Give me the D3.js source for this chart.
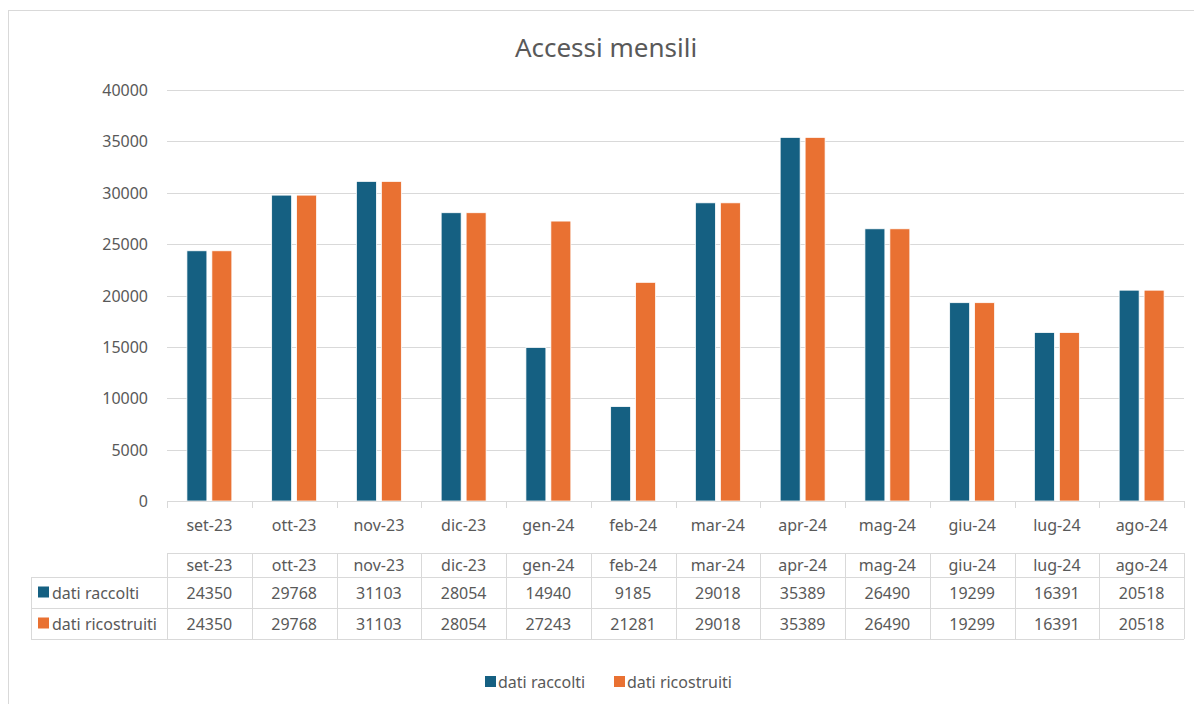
<!DOCTYPE html>
<html>
<head>
<meta charset="utf-8">
<script src="https://cdn.jsdelivr.net/npm/d3@7"></script>
<style>
  body { margin: 0; background: #fff; }
  svg text { font-family: "Noto Sans", "Open Sans", sans-serif; fill: #595959; }
</style>
</head>
<body>
<div id="canvas"></div>
<script>
// data
var months = ["set-23", "ott-23", "nov-23", "dic-23", "gen-24", "feb-24",
              "mar-24", "apr-24", "mag-24", "giu-24", "lug-24", "ago-24"];
var datiRaccolti = [24350, 29768, 31103, 28054, 14940, 9185, 29018, 35389, 26490, 19299, 16391, 20518];
var datiRicostruiti = [24350, 29768, 31103, 28054, 27243, 21281, 29018, 35389, 26490, 19299, 16391, 20518];
var seriesNames = ["dati raccolti", "dati ricostruiti"];
var seriesColors = ["#156082", "#E97132"];
var yTicks = [0, 5000, 10000, 15000, 20000, 25000, 30000, 35000, 40000];

var width = 1194, height = 704;
var plotLeft = 167, plotRight = 1184, plotTop = 90, plotBottom = 501;
var fontSize = "16px";

var svg = d3.select("#canvas").append("svg")
    .attr("width", width)
    .attr("height", height);

// outer chart border
svg.append("rect")
    .attr("x", 8.5).attr("y", 10.5)
    .attr("width", 1200).attr("height", 720)
    .attr("fill", "none")
    .attr("stroke", "#d9d9d9");

svg.append("text")
    .attr("x", 606).attr("y", 57)
    .attr("text-anchor", "middle")
    .style("font-size", "26px")
    .text("Accessi mensili");

var x = d3.scaleBand().domain(months).range([plotLeft, plotRight]);
var xInner = d3.scaleBand().domain(seriesNames)
    .range([x.bandwidth() * 0.235, x.bandwidth() * 0.765])
    .paddingInner(0.2);
var y = d3.scaleLinear().domain([0, 40000]).range([plotBottom, plotTop]);

// gridlines and y labels
svg.append("g").selectAll("line")
    .data(yTicks.slice(1))
    .enter().append("line")
    .attr("x1", plotLeft).attr("x2", plotRight)
    .attr("y1", function(d) { return Math.round(y(d)) + 0.5; })
    .attr("y2", function(d) { return Math.round(y(d)) + 0.5; })
    .attr("stroke", "#d9d9d9")
    .attr("stroke-width", 1);

svg.append("g").selectAll("text")
    .data(yTicks)
    .enter().append("text")
    .attr("x", 148)
    .attr("y", function(d) { return y(d) + 6; })
    .attr("text-anchor", "end")
    .style("font-size", fontSize)
    .text(function(d) { return d; });

// bars
var series = [datiRaccolti, datiRicostruiti];
series.forEach(function(vals, s) {
    svg.append("g").selectAll("rect")
        .data(vals)
        .enter().append("rect")
        .attr("x", function(d, i) { return x(months[i]) + xInner(seriesNames[s]); })
        .attr("y", function(d) { return y(d); })
        .attr("width", xInner.bandwidth())
        .attr("height", function(d) { return plotBottom - y(d); })
        .attr("fill", seriesColors[s])
        .attr("stroke", "#fff")
        .attr("stroke-width", 0.75);
});

// x axis line and ticks
svg.append("line")
    .attr("x1", plotLeft).attr("x2", plotRight)
    .attr("y1", plotBottom + 0.5).attr("y2", plotBottom + 0.5)
    .attr("stroke", "#d9d9d9");
svg.append("g").selectAll("line")
    .data(d3.range(months.length + 1))
    .enter().append("line")
    .attr("x1", function(i) { return Math.round(plotLeft + i * x.step()) + 0.5; })
    .attr("x2", function(i) { return Math.round(plotLeft + i * x.step()) + 0.5; })
    .attr("y1", plotBottom).attr("y2", plotBottom + 7)
    .attr("stroke", "#d9d9d9");

svg.append("g").selectAll("text")
    .data(months)
    .enter().append("text")
    .attr("x", function(d) { return x(d) + x.bandwidth() / 2; })
    .attr("y", 531)
    .attr("text-anchor", "middle")
    .style("font-size", fontSize)
    .text(function(d) { return d; });

// data table
var rowTops = [553, 577, 608, 639];
var tableLeft = 31;
var grid = svg.append("g").attr("stroke", "#d9d9d9").attr("fill", "none");
grid.append("line").attr("x1", plotLeft).attr("x2", plotRight)
    .attr("y1", rowTops[0] + 0.5).attr("y2", rowTops[0] + 0.5);
for (var r = 1; r < rowTops.length; r++) {
    grid.append("line").attr("x1", tableLeft).attr("x2", plotRight)
        .attr("y1", rowTops[r] + 0.5).attr("y2", rowTops[r] + 0.5);
}
grid.append("line").attr("x1", tableLeft + 0.5).attr("x2", tableLeft + 0.5)
    .attr("y1", rowTops[1]).attr("y2", rowTops[3]);
for (var c = 0; c <= months.length; c++) {
    var cx = Math.round(plotLeft + c * x.step()) + 0.5;
    grid.append("line").attr("x1", cx).attr("x2", cx)
        .attr("y1", rowTops[0]).attr("y2", rowTops[3]);
}

svg.append("g").selectAll("text")
    .data(months)
    .enter().append("text")
    .attr("x", function(d) { return x(d) + x.bandwidth() / 2; })
    .attr("y", 571)
    .attr("text-anchor", "middle")
    .style("font-size", fontSize)
    .text(function(d) { return d; });

series.forEach(function(vals, s) {
    var rowY = (rowTops[s + 1] + rowTops[s + 2]) / 2 + 6;
    svg.append("rect")
        .attr("x", 38).attr("y", rowY - 12)
        .attr("width", 11).attr("height", 11)
        .attr("fill", seriesColors[s]);
    svg.append("text")
        .attr("x", 52).attr("y", rowY)
        .style("font-size", fontSize)
        .text(seriesNames[s]);
    svg.append("g").selectAll("text")
        .data(vals)
        .enter().append("text")
        .attr("x", function(d, i) { return x(months[i]) + x.bandwidth() / 2; })
        .attr("y", rowY)
        .attr("text-anchor", "middle")
        .style("font-size", fontSize)
        .text(function(d) { return d; });
});

// legend
var legendX = [485, 614];
seriesNames.forEach(function(name, s) {
    svg.append("rect")
        .attr("x", legendX[s]).attr("y", 676)
        .attr("width", 11).attr("height", 11)
        .attr("fill", seriesColors[s]);
    svg.append("text")
        .attr("x", legendX[s] + 13).attr("y", 688)
        .style("font-size", fontSize)
        .text(name);
});
</script>
</body>
</html>
